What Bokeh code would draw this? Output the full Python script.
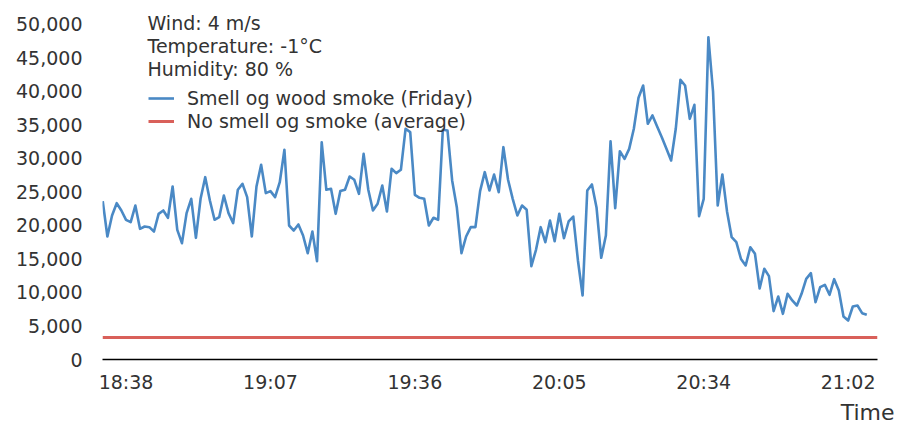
from bokeh.plotting import figure
from bokeh.models import (Range1d, FixedTicker, NumeralTickFormatter, Label, Title,
                          Legend, LegendItem, ColumnDataSource)
from bokeh.embed import file_html
from bokeh.resources import INLINE

# ---- data ----
smoke_friday = [
    23630, 18360, 21500, 23330, 22240, 20850, 20500, 22980, 19500, 19850,
    19750, 19100, 21740, 22240, 21150, 25820, 19350, 17360, 21840, 23980,
    18160, 23980, 27210, 23730, 20850, 21240, 24480, 21840, 20350, 25330,
    26220, 24230, 18360, 25820, 29060, 24830, 25130, 24230, 26460, 31300,
    20000, 19250, 20150, 18510, 15870, 19100, 14670, 32430, 25330, 25470,
    21740, 25130, 25330, 27310, 26820, 24730, 30700, 25330, 22240, 23240,
    25970, 22090, 28460, 27810, 28310, 34430, 33930, 24580, 24130, 23980,
    20000, 21150, 20850, 34280, 34180, 26720, 22730, 15870, 18360, 19750,
    19750, 25130, 27960, 25220, 27610, 24980, 31690, 26820, 23980, 21490,
    22980, 22340, 13930, 16370, 19750, 17510, 20750, 17660, 21740, 18100,
    20600, 21340, 14780, 9550, 25220, 26120, 22640, 15180, 18510, 32550,
    22590, 31090, 29950, 31440, 34430, 39060, 40890, 35180, 36420, 34780,
    33180, 31440, 29700, 34430, 41740, 40890, 35920, 38010, 21390, 23980,
    48100, 40000, 22980, 27610, 22100, 18250, 17510, 15000, 14030, 16760,
    15770, 10600, 13540, 12450, 7210, 9400, 6820, 9800, 8810, 8060,
    9800, 12040, 12880, 8550, 10790, 11150, 9660, 11990, 10300, 6420,
    5820, 7910, 8060, 6910, 6670,
]
no_smoke_average = 3300
sample_index = list(range(len(smoke_friday)))

time_tick_index = [5, 36, 67, 98, 129, 160]
time_tick_labels = ["18:38", "19:07", "19:36", "20:05", "20:34", "21:02"]
y_ticks = list(range(0, 50001, 5000))

info_lines = ["Wind: 4 m/s", "Temperature: -1°C", "Humidity: 80 %"]
series_names = ["Smell og wood smoke (Friday)", "No smell og smoke (average)"]
x_title = "Time"

# ---- style ----
FONT = "DejaVu Sans"
FS = "19px"
TXT = "#333333"
BLUE = "#4a89c5"
RED = "#d9605a"
X_START, X_END = -0.05, 166.3

p = figure(width=899, height=429, output_backend="svg", toolbar_location=None,
           x_range=Range1d(X_START, X_END), y_range=Range1d(0, 53580),
           min_border_left=102, min_border_right=22, min_border_top=0,
           min_border_bottom=70)
p.outline_line_color = None
p.xgrid.visible = False
p.ygrid.visible = False
p.background_fill_color = "white"
p.border_fill_color = "white"

src = ColumnDataSource(dict(x=sample_index, y=smoke_friday))
blue_r = p.line("x", "y", source=src, line_color=BLUE, line_width=2.6,
                line_join="round")
red_r = p.line(x=[X_START, X_END], y=[no_smoke_average, no_smoke_average],
               line_color=RED, line_width=3)

# axes
xa = p.xaxis[0]
xa.ticker = FixedTicker(ticks=time_tick_index)
xa.major_label_overrides = {t: l for t, l in zip(time_tick_index, time_tick_labels)}
xa.axis_line_color = "black"
xa.axis_line_width = 1.5
xa.major_tick_line_color = None
xa.minor_tick_line_color = None
xa.major_tick_out = 0
xa.major_tick_in = 0
xa.major_label_standoff = 11
xa.major_label_text_font = FONT
xa.major_label_text_font_size = FS
xa.major_label_text_color = TXT

ya = p.yaxis[0]
ya.ticker = FixedTicker(ticks=y_ticks)
ya.formatter = NumeralTickFormatter(format="0,0")
ya.axis_line_color = None
ya.major_tick_line_color = None
ya.minor_tick_line_color = None
ya.major_tick_out = 0
ya.major_tick_in = 0
ya.major_label_standoff = 20
ya.major_label_text_font = FONT
ya.major_label_text_font_size = FS
ya.major_label_text_color = TXT

# info text
for i, t in enumerate(info_lines):
    p.add_layout(Label(x=45, y=337 - 23 * i, x_units="screen", y_units="screen",
                       text=t, text_font=FONT, text_font_size=FS,
                       text_color=TXT, text_baseline="middle", text_align="left"))

# x title (right aligned, below the axis)
p.add_layout(Title(text=x_title, align="right", text_font=FONT,
                   text_font_size="22px", text_color=TXT,
                   text_font_style="normal", standoff=4, offset=-17), "below")

legend = Legend(items=[LegendItem(label=series_names[0], renderers=[blue_r]),
                       LegendItem(label=series_names[1], renderers=[red_r])],
                location=(46, 227))
legend.label_text_font = FONT
legend.label_text_font_size = FS
legend.label_text_color = TXT
legend.background_fill_alpha = 0
legend.border_line_alpha = 0
legend.padding = 0
legend.margin = 0
legend.spacing = 1
legend.glyph_width = 26
legend.glyph_height = 20
legend.label_height = 20
legend.label_standoff = 13
p.add_layout(legend)

open("out.html", "w").write(file_html(p, INLINE))
